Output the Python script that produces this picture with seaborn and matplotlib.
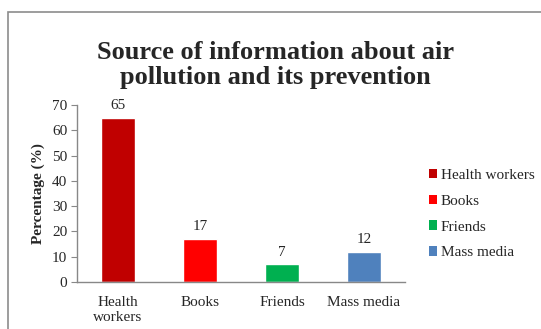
import matplotlib
matplotlib.use("Agg")
import matplotlib.pyplot as plt
import seaborn as sns
import pandas as pd
from matplotlib.patches import Rectangle, Patch

categories = ["Health workers", "Books", "Friends", "Mass media"]
tick_labels = ["Health\nworkers", "Books", "Friends", "Mass media"]
values = [65, 17, 7, 12]
colors = ["#C00000", "#FF0000", "#00B050", "#4F81BD"]

sns.set_style("white")
plt.rcParams['font.family'] = ['Liberation Serif', 'DejaVu Serif']

df = pd.DataFrame({"Source": categories, "Percentage": values})

fig = plt.figure(figsize=(5.41, 3.29), dpi=100)
fig.patches.append(Rectangle((8/541, -0.1), 1.2, 1 - 12/329 + 0.1, transform=fig.transFigure,
                             fill=False, edgecolor="#8c8c8c", linewidth=1.2))
ax = fig.add_axes([77/541, 1 - 282/329, (405-77)/541, (282-105)/329])

sns.barplot(data=df, x="Source", y="Percentage", hue="Source", palette=colors,
            dodge=False, width=0.41, ax=ax, legend=False, saturation=1)

for i, v in enumerate(values):
    ax.text(i, v + 2.2, str(v), ha="center", va="bottom", fontsize=11)

ax.set_ylim(0, 70)
ax.set_xlim(-0.5, 3.5)
ax.set_yticks(range(0, 71, 10))
ax.set_xticks(range(len(categories)))
ax.set_xticklabels(tick_labels, fontsize=11, linespacing=1.25)
ax.tick_params(axis="y", labelsize=11, length=4, direction="out", left=True, color="#888888", pad=3)
ax.tick_params(axis="x", length=0, pad=10)
ax.set_xlabel("")
ax.set_ylabel("Percentage (%)", fontsize=11, fontweight="bold", labelpad=5)
for s in ["top", "right"]:
    ax.spines[s].set_visible(False)
for s in ["left", "bottom"]:
    ax.spines[s].set_color("#888888")
    ax.spines[s].set_linewidth(1)

handles = [Patch(facecolor=c, edgecolor="none") for c in colors]
fig.legend(handles, categories, loc="center left", bbox_to_anchor=(415/541, 1 - 214/329),
           frameon=False, fontsize=11, handlelength=0.55, handleheight=0.55,
           handletextpad=0.25, labelspacing=0.85)

fig.text(0.509, 1 - 89/329, "Source of information about air\npollution and its prevention",
         ha="center", va="bottom", fontsize=19, fontweight="bold", linespacing=1.12)

fig.savefig("out.png", dpi=100)
